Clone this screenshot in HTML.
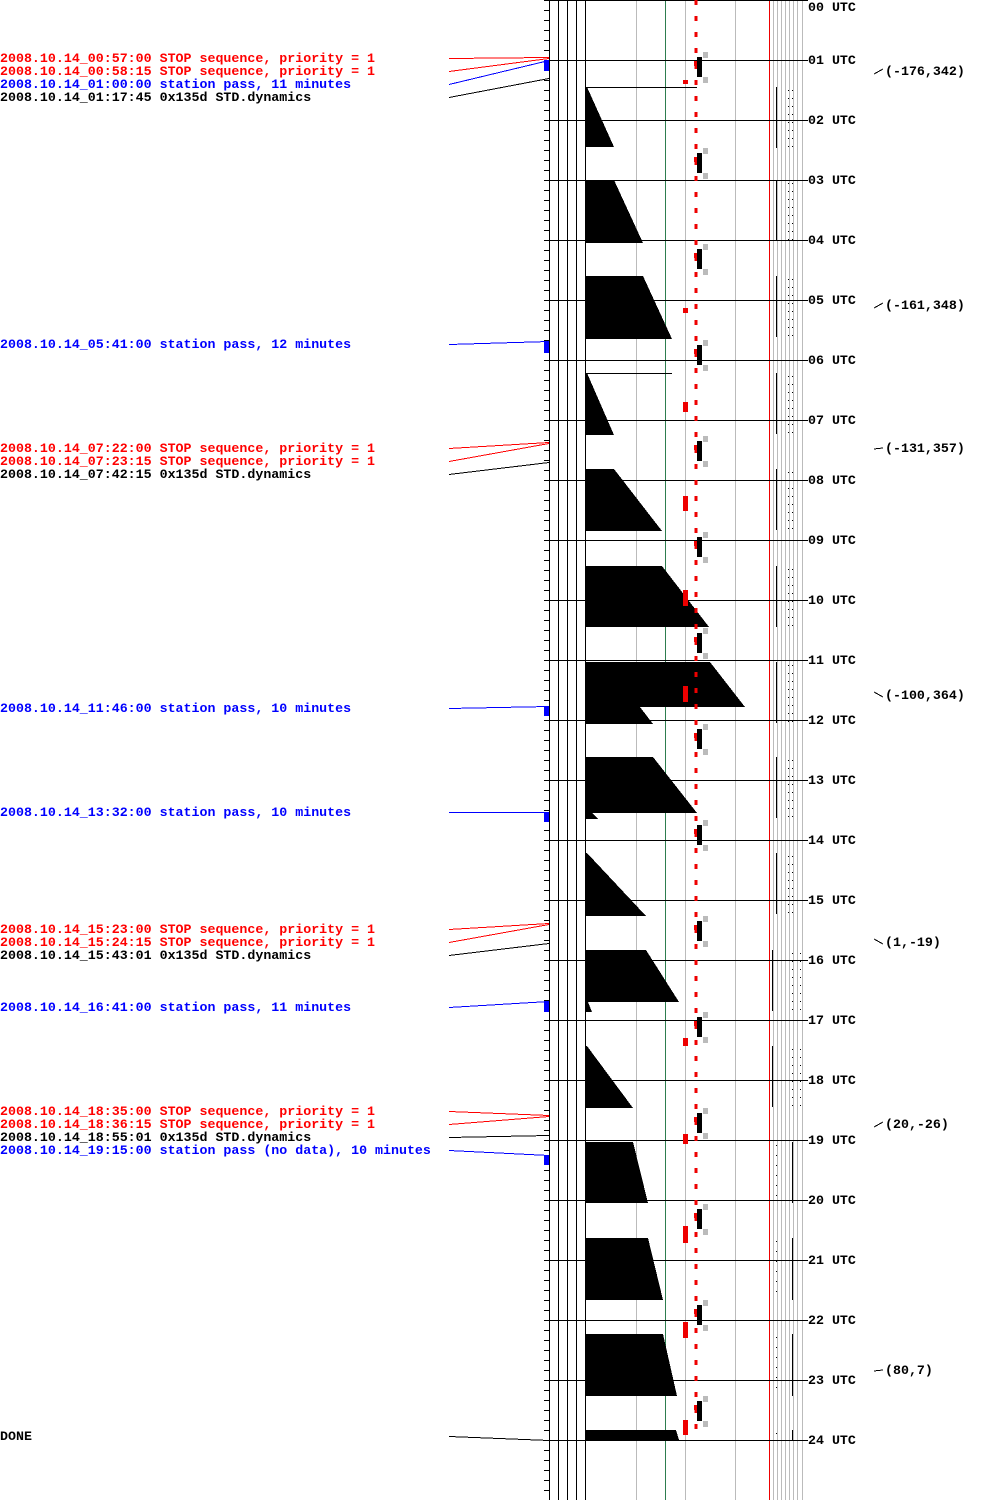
<!DOCTYPE html>
<html><head><meta charset="utf-8"><style>
html,body{margin:0;padding:0;background:#fff;}
svg{display:block;}
text{font-family:"Liberation Mono","DejaVu Sans Mono",monospace;font-size:13.3px;font-weight:bold;}
</style></head><body>
<svg id="s" width="1000" height="1500" xmlns="http://www.w3.org/2000/svg" shape-rendering="crispEdges"></svg>
<script>
const s=document.getElementById('s');const NS='http://www.w3.org/2000/svg';
function el(t,a,txt){const e=document.createElementNS(NS,t);for(const k in a)e.setAttribute(k,a[k]);if(txt!==undefined)e.textContent=txt;s.appendChild(e);return e;}
function L(x1,y1,x2,y2,c,w,extra){const a={x1,y1,x2,y2,stroke:c,'stroke-width':w||1};Object.assign(a,extra||{});return el('line',a);}
function R(x,y,w,h,c){el('rect',{x,y,width:w,height:h,fill:c});}
[636,685,735].forEach(x=>L(x+.5,0,x+.5,1500,'#bbb'));
L(665.5,0,665.5,1500,'#2e7d4f');
[773,777,781,785,789,793,797,802].forEach(x=>L(x+.5,0,x+.5,1500,'#bbb'));
L(769.5,0,769.5,1500,'#e00');
[549,558,567,576,585].forEach(x=>L(x+.5,0,x+.5,1500,'#000'));
for(let y=0;y<=1500;y+=10)L(544,y+.5,549,y+.5,'#000');
for(let h=0;h<=24;h++){const y=h*60;L(549,y+.5,808,y+.5,'#000');
 el('text',{x:808,y:(h==0?7:y)+4,fill:'#000'},(h<10?'0'+h:h)+' UTC');}
const P=[
[[585,87],[587,87],[614,147],[585,147]],
[[585,180],[614,180],[643,243],[585,243]],
[[585,276],[643,276],[672,339],[585,339]],
[[585,373],[587,373],[614,435],[585,435]],
[[585,469],[614,469],[662,531],[585,531]],
[[585,566],[662,566],[709,627],[585,627]],
[[585,662],[710,662],[745,707],[640,707],[653,724],[585,724]],
[[585,757],[653,757],[697,813],[592,813],[598,819],[585,819]],
[[585,853],[587,853],[646,916],[585,916]],
[[585,950],[646,950],[679,1002],[588,1002],[592,1012],[585,1012]],
[[585,1046],[587,1046],[633,1108],[585,1108]],
[[585,1142],[633,1142],[648,1203],[585,1203]],
[[585,1238],[648,1238],[663,1300],[585,1300]],
[[585,1334],[663,1334],[677,1396],[585,1396]],
[[585,1430],[676,1430],[679,1440],[585,1440]]];
P.forEach(p=>el('polygon',{points:p.map(q=>q.join(',')).join(' '),fill:'#000'}));
L(585,87.5,697,87.5,'#000');L(585,373.5,672,373.5,'#000');
L(696,0,696,1440,'#e00',3,{'stroke-dasharray':'5 11'});
for(let k=0;k<15;k++){const y=57+96*k;R(697,y,5,20,'#000');R(703,y-5,5,6,'#bbb');R(703,y+20,5,6,'#bbb');R(694,y+4,3,5,'#e00');}
[[80,4],[308,5],[402,10],[496,15],[590,16],[686,16],[1038,8],[1134,10],[1226,17],[1322,16],[1420,15]].forEach(a=>R(683,a[0],5,a[1],'#e00'));
for(let k=0;k<11;k++){const y0=[87,180,276,373,469,566,662,757,853,950,1046][k];const y1=y0+61;
 const x=k<9?776:772;L(x+.5,y0,x+.5,y1,'#000');
 for(let y=y0+3;y<y1;y+=8){R(k<9?788:792,y,1,1,'#000');R(k<9?792:800,y,1,1,'#000');}}
[[1142,1203],[1238,1300],[1334,1396],[1430,1440]].forEach(a=>{L(792.5,a[0],792.5,a[1],'#000');for(let y=a[0]+3;y<a[1];y+=10)R(776,y,1,1,'#000');});
const RED='#f00',BLU='#00f',BLK='#000';
const labs=[
[58,RED,'2008.10.14_00:57:00 STOP sequence, priority = 1',57],
[71,RED,'2008.10.14_00:58:15 STOP sequence, priority = 1',58],
[84,BLU,'2008.10.14_01:00:00 station pass, 11 minutes',60],
[97,BLK,'2008.10.14_01:17:45 0x135d STD.dynamics',78],
[344,BLU,'2008.10.14_05:41:00 station pass, 12 minutes',341],
[448,RED,'2008.10.14_07:22:00 STOP sequence, priority = 1',442],
[461,RED,'2008.10.14_07:23:15 STOP sequence, priority = 1',443],
[474,BLK,'2008.10.14_07:42:15 0x135d STD.dynamics',462],
[708,BLU,'2008.10.14_11:46:00 station pass, 10 minutes',706],
[812,BLU,'2008.10.14_13:32:00 station pass, 10 minutes',812],
[929,RED,'2008.10.14_15:23:00 STOP sequence, priority = 1',923],
[942,RED,'2008.10.14_15:24:15 STOP sequence, priority = 1',924],
[955,BLK,'2008.10.14_15:43:01 0x135d STD.dynamics',943],
[1007,BLU,'2008.10.14_16:41:00 station pass, 11 minutes',1001],
[1111,RED,'2008.10.14_18:35:00 STOP sequence, priority = 1',1115],
[1124,RED,'2008.10.14_18:36:15 STOP sequence, priority = 1',1116],
[1137,BLK,'2008.10.14_18:55:01 0x135d STD.dynamics',1135],
[1150,BLU,'2008.10.14_19:15:00 station pass (no data), 10 minutes',1155],
[1436,BLK,'DONE',1440]];
labs.forEach(l=>{el('text',{x:0,y:l[0]+4,fill:l[1]},l[2]);L(449,l[0]+.5,549,l[3]+.5,l[1]);});
[[60,11],[341,12],[706,10],[812,10],[1001,11],[1155,10]].forEach(a=>R(544,a[0],5,a[1],'#00f'));
[[71,'(-176,342)','/'],[305,'(-161,348)','/'],[448,'(-131,357)','-'],[695,'(-100,364)','\\'],[942,'(1,-19)','\\'],[1124,'(20,-26)','/'],[1370,'(80,7)','-']].forEach(c=>{
 if(c[2]=='/')L(874,c[0]+3,883,c[0]-2,'#000');else if(c[2]=='\\')L(874,c[0]-3,883,c[0]+2,'#000');else L(874,c[0]+1,883,c[0],'#000');
 el('text',{x:885,y:c[0]+4,fill:'#000'},c[1]);});
</script>
</body></html>
